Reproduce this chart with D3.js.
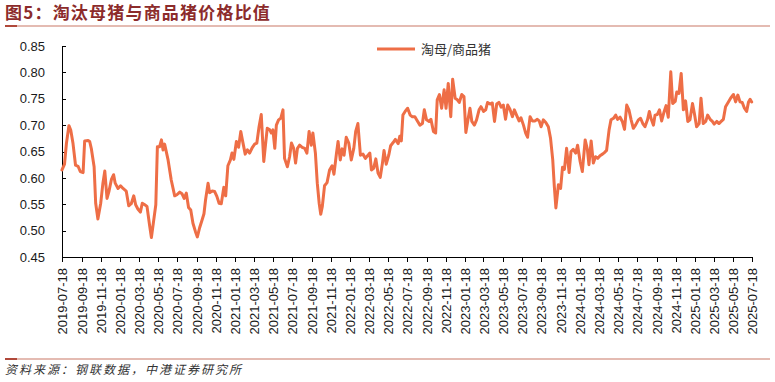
<!DOCTYPE html>
<html>
<head>
<meta charset="utf-8">
<script src="https://cdn.jsdelivr.net/npm/d3@7"></script>
<style>
  html, body { margin: 0; padding: 0; background: #fff; }
  svg { display: block; }
</style>
</head>
<body>
<div id="chart"></div>
<script>
// 淘汰母猪与商品猪价格比值, readings taken as day offsets from the first observation
var startDate = '2019-07-18';
var endDate = '2025-07-18';
var seriesName = '淘母/商品猪';
var titleText = '图5：淘汰母猪与商品猪价格比值';
var sourceText = '资料来源：钢联数据，中港证券研究所';

var obsDays = [
    0, 8, 14, 22, 28, 35, 43, 51, 58, 67, 72, 83, 88, 93, 102, 107, 114, 123, 130, 136,
    143, 149, 157, 164, 169, 178, 186, 194, 204, 212, 220, 228, 234, 241, 249, 255, 263, 270, 278, 284,
    291, 298, 303, 310, 316, 321, 326, 337, 347, 358, 365, 374, 381, 388, 395, 402, 409, 416, 424, 430,
    437, 446, 451, 456, 464, 469, 477, 485, 492, 499, 506, 514, 520, 527, 535, 540, 546, 554, 561, 568,
    573, 582, 589, 596, 605, 612, 619, 626, 633, 641, 647, 652, 660, 665, 670, 676, 681, 688, 695, 702,
    707, 716, 723, 729, 736, 742, 748, 755, 763, 771, 778, 785, 792, 797, 805, 811, 817, 822, 827, 834,
    842, 850, 858, 864, 872, 877, 884, 890, 896, 903, 911, 919, 927, 933, 940, 948, 956, 964, 972, 978,
    983, 990, 997, 1004, 1011, 1018, 1023, 1030, 1038, 1044, 1052, 1059, 1068, 1073, 1078, 1083,
    1090, 1098, 1106, 1113, 1121, 1129, 1137, 1145, 1151, 1158, 1166, 1172, 1180, 1187, 1192, 1199, 1206, 1214, 1220, 1227,
    1235, 1241, 1249, 1256, 1262, 1270, 1277, 1283, 1291, 1296, 1302, 1310, 1317, 1325, 1331, 1339, 1346, 1352, 1360, 1367,
    1374, 1381, 1388, 1395, 1402, 1409, 1416, 1423, 1431, 1437, 1444, 1452, 1458, 1466, 1473, 1479, 1487, 1494, 1503, 1510,
    1516, 1522, 1529, 1537, 1545, 1552, 1559, 1564, 1569, 1577, 1584, 1590, 1596, 1603, 1611, 1617, 1624, 1632, 1638, 1646,
    1653, 1662, 1669, 1674, 1681, 1688, 1695, 1702, 1709, 1717, 1723, 1730, 1738, 1744, 1752, 1759, 1765, 1773, 1780, 1787,
    1794, 1801, 1808, 1815, 1822, 1831, 1838, 1845, 1852, 1860, 1866, 1871, 1879, 1884, 1891, 1898, 1905, 1913, 1919, 1926,
    1934, 1940, 1948, 1953, 1960, 1967, 1974, 1981, 1988, 1995, 2003, 2009, 2016, 2024, 2030, 2037, 2045, 2051, 2059, 2066,
    2072, 2080, 2087, 2094, 2101, 2108, 2117, 2124, 2133, 2140, 2147, 2154, 2161, 2168, 2175, 2181, 2186, 2191
];

var ratioValues = [
    0.615, 0.626, 0.665, 0.699, 0.690, 0.665, 0.624, 0.622, 0.612, 0.610, 0.670, 0.671, 0.669, 0.656, 0.621, 0.552, 0.522, 0.552, 0.590, 0.613,
    0.561, 0.574, 0.597, 0.606, 0.590, 0.580, 0.585, 0.580, 0.575, 0.547, 0.551, 0.566, 0.549, 0.541, 0.535, 0.552, 0.549, 0.546, 0.511, 0.487,
    0.518, 0.549, 0.659, 0.659, 0.672, 0.653, 0.664, 0.634, 0.596, 0.566, 0.568, 0.573, 0.570, 0.561, 0.571, 0.544, 0.539, 0.514, 0.498, 0.488,
    0.505, 0.522, 0.532, 0.558, 0.590, 0.572, 0.575, 0.574, 0.565, 0.552, 0.551, 0.582, 0.566, 0.623, 0.634, 0.647, 0.635, 0.669, 0.658, 0.688,
    0.672, 0.645, 0.653, 0.647, 0.658, 0.664, 0.666, 0.697, 0.720, 0.631, 0.666, 0.694, 0.691, 0.685, 0.691, 0.656, 0.700, 0.710, 0.713, 0.729,
    0.637, 0.621, 0.640, 0.666, 0.656, 0.628, 0.656, 0.662, 0.658, 0.656, 0.647, 0.688, 0.662, 0.685, 0.647, 0.590, 0.552, 0.531, 0.546, 0.585,
    0.591, 0.615, 0.623, 0.607, 0.647, 0.669, 0.634, 0.655, 0.643, 0.677, 0.666, 0.634, 0.656, 0.688, 0.703, 0.643, 0.645, 0.637, 0.643, 0.647,
    0.615, 0.618, 0.636, 0.609, 0.601, 0.628, 0.652, 0.626, 0.643, 0.661, 0.667, 0.673, 0.665, 0.679, 0.670, 0.719,
    0.726, 0.732, 0.719, 0.716, 0.716, 0.708, 0.700, 0.703, 0.729, 0.710, 0.707, 0.711, 0.688, 0.685, 0.748, 0.758, 0.732, 0.767, 0.732, 0.779,
    0.716, 0.787, 0.751, 0.748, 0.743, 0.758, 0.754, 0.686, 0.715, 0.732, 0.707, 0.700, 0.710, 0.729, 0.735, 0.726, 0.729, 0.743, 0.740, 0.742,
    0.707, 0.740, 0.743, 0.734, 0.738, 0.711, 0.738, 0.730, 0.716, 0.729, 0.719, 0.708, 0.714, 0.700, 0.685, 0.677, 0.716, 0.708, 0.708, 0.711,
    0.708, 0.697, 0.710, 0.705, 0.697, 0.675, 0.634, 0.584, 0.543, 0.587, 0.580, 0.620, 0.616, 0.656, 0.610, 0.650, 0.654, 0.647, 0.662, 0.631,
    0.612, 0.672, 0.654, 0.625, 0.670, 0.628, 0.640, 0.637, 0.642, 0.645, 0.648, 0.652, 0.691, 0.710, 0.713, 0.719, 0.711, 0.715, 0.707, 0.692,
    0.738, 0.729, 0.710, 0.694, 0.700, 0.710, 0.713, 0.703, 0.697, 0.710, 0.726, 0.713, 0.700, 0.719, 0.720, 0.729, 0.708, 0.726, 0.737, 0.715,
    0.801, 0.741, 0.745, 0.763, 0.760, 0.798, 0.729, 0.746, 0.707, 0.710, 0.741, 0.722, 0.697, 0.703, 0.751, 0.703, 0.707, 0.719, 0.711, 0.707,
    0.702, 0.707, 0.703, 0.707, 0.711, 0.735, 0.744, 0.751, 0.758, 0.744, 0.757, 0.744, 0.743, 0.732, 0.726, 0.744, 0.749, 0.744
];

var xTickLabels = [
    '2019-07-18', '2019-09-18', '2019-11-18',
    '2020-01-18', '2020-03-18', '2020-05-18', '2020-07-18', '2020-09-18', '2020-11-18',
    '2021-01-18', '2021-03-18', '2021-05-18', '2021-07-18', '2021-09-18', '2021-11-18',
    '2022-01-18', '2022-03-18', '2022-05-18', '2022-07-18', '2022-09-18', '2022-11-18',
    '2023-01-18', '2023-03-18', '2023-05-18', '2023-07-18', '2023-09-18', '2023-11-18',
    '2024-01-18', '2024-03-18', '2024-05-18', '2024-07-18', '2024-09-18', '2024-11-18',
    '2025-01-18', '2025-03-18', '2025-05-18', '2025-07-18'
];

var yTickValues = [0.45, 0.50, 0.55, 0.60, 0.65, 0.70, 0.75, 0.80, 0.85];

var width = 775, height = 382;
var lineColor = '#EE6E46';
var latinFont = '"Liberation Sans", Arial, sans-serif';
var cjkFont = '"Noto Sans CJK SC", "Noto Sans", sans-serif';

var parseDate = d3.timeParse('%Y-%m-%d');
var start = parseDate(startDate);

var data = obsDays.map(function(d, i){
    return {date: d3.timeDay.offset(start, d), value: ratioValues[i]};
});

var svg = d3.select('#chart').append('svg')
    .attr('width', width)
    .attr('height', height);

var x = d3.scaleTime()
    .domain([start, parseDate(endDate)])
    .range([62, 752]);

var y = d3.scaleLinear()
    .domain([0.45, 0.85])
    .range([257, 46]);

// title block
svg.append('text')
    .attr('x', 5)
    .attr('y', 19)
    .text(titleText)
    .attr('fill', '#8C2B2B')
    .attr('font-family', cjkFont)
    .attr('font-weight', 'bold')
    .attr('font-size', '17px')
    .attr('letter-spacing', '1.2px');

svg.append('line')
    .attr('x1', 5).attr('x2', 770)
    .attr('y1', 26).attr('y2', 26)
    .attr('stroke', '#DBA598')
    .attr('stroke-width', 1.5);

svg.append('line')
    .attr('x1', 5).attr('x2', 17)
    .attr('y1', 26).attr('y2', 26)
    .attr('stroke', '#B0483A')
    .attr('stroke-width', 2);

// axes
var yAxis = d3.axisLeft(y)
    .tickValues(yTickValues)
    .tickFormat(d3.format('.2f'))
    .tickSizeInner(-4)
    .tickSizeOuter(0)
    .tickPadding(17);

var gy = svg.append('g')
    .attr('transform', 'translate(62,0)')
    .call(yAxis);

var xAxis = d3.axisBottom(x)
    .tickValues(xTickLabels.map(parseDate))
    .tickFormat(d3.timeFormat('%Y-%m-%d'))
    .tickSizeInner(5)
    .tickSizeOuter(0);

var gx = svg.append('g')
    .attr('transform', 'translate(0,257)')
    .call(xAxis);

gx.selectAll('.tick text')
    .attr('transform', 'rotate(-90)')
    .attr('text-anchor', 'end')
    .attr('x', -11)
    .attr('y', 0)
    .attr('dy', '0.35em');

svg.selectAll('.domain, .tick line')
    .attr('stroke', '#000')
    .attr('stroke-width', 1)
    .attr('shape-rendering', 'crispEdges');

svg.selectAll('.tick text')
    .attr('fill', '#1a1a1a')
    .attr('font-family', latinFont)
    .attr('font-size', '13px');

// series
var line = d3.line()
    .x(function(d){ return x(d.date); })
    .y(function(d){ return y(d.value); });

svg.append('path')
    .datum(data)
    .attr('d', line)
    .attr('fill', 'none')
    .attr('stroke', lineColor)
    .attr('stroke-width', 3)
    .attr('stroke-linejoin', 'round')
    .attr('stroke-linecap', 'round');

// legend
svg.append('line')
    .attr('x1', 377).attr('x2', 415)
    .attr('y1', 49).attr('y2', 49)
    .attr('stroke', lineColor)
    .attr('stroke-width', 3);

svg.append('text')
    .attr('x', 421)
    .attr('y', 54)
    .text(seriesName)
    .attr('fill', '#333')
    .attr('font-family', cjkFont)
    .attr('font-size', '13px');

// source note
svg.append('line')
    .attr('x1', 5).attr('x2', 770)
    .attr('y1', 359).attr('y2', 359)
    .attr('stroke', '#DBA598')
    .attr('stroke-width', 1.5);

svg.append('line')
    .attr('x1', 5).attr('x2', 17)
    .attr('y1', 359).attr('y2', 359)
    .attr('stroke', '#B0483A')
    .attr('stroke-width', 2);

svg.append('text')
    .attr('x', 5)
    .attr('y', 374)
    .text(sourceText)
    .attr('fill', '#333')
    .attr('font-family', cjkFont)
    .attr('font-style', 'italic')
    .attr('font-size', '12px')
    .attr('letter-spacing', '2px');
</script>
</body>
</html>
